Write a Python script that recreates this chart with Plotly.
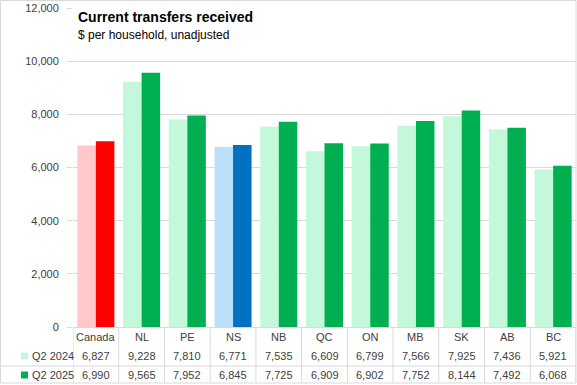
import plotly.graph_objects as go

categories = ["Canada", "NL", "PE", "NS", "NB", "QC", "ON", "MB", "SK", "AB", "BC"]
series_names = ["Q2 2024", "Q2 2025"]
q2_2024 = [6827, 9228, 7810, 6771, 7535, 6609, 6799, 7566, 7925, 7436, 5921]
q2_2025 = [6990, 9565, 7952, 6845, 7725, 6909, 6902, 7752, 8144, 7492, 6068]
y_ticks = [0, 2000, 4000, 6000, 8000, 10000, 12000]

title_text = "Current transfers received"
subtitle_text = "$ per household, unadjusted"

# colour scheme
LIGHT_DEFAULT, DARK_DEFAULT = "#C4F8DB", "#00B050"
HIGHLIGHT = {"Canada": ("#FFC9C9", "#FF0000"), "NS": ("#BDE0FA", "#0070C0")}
light_colors = [HIGHLIGHT.get(c, (LIGHT_DEFAULT, DARK_DEFAULT))[0] for c in categories]
dark_colors = [HIGHLIGHT.get(c, (LIGHT_DEFAULT, DARK_DEFAULT))[1] for c in categories]

W, H = 577, 385
ML, MR, MT, MB = 73, 1, 8, 58
PW, PH = W - ML - MR, H - MT - MB

def px(xp):
    return (xp - ML) / PW

def py(yp):
    return (H - MB - yp) / PH

FONT = "Liberation Sans, Arial, sans-serif"
GRID = "#D9D9D9"

fig = go.Figure()
fig.add_trace(go.Bar(x=categories, y=q2_2024, name=series_names[0],
                     marker=dict(color=light_colors, line=dict(width=0))))
fig.add_trace(go.Bar(x=categories, y=q2_2025, name=series_names[1],
                     marker=dict(color=dark_colors, line=dict(width=0))))

shapes = []
# outer frame
shapes.append(dict(type="rect", xref="paper", yref="paper", x0=px(0.5), x1=px(576), y0=py(383), y1=py(0.5),
                   line=dict(color=GRID, width=1), layer="below"))
# table vertical lines
for i in range(len(categories) + 1):
    shapes.append(dict(type="line", xref="x", yref="paper", x0=i - 0.5, x1=i - 0.5, y0=py(327), y1=py(383),
                       line=dict(color=GRID, width=1)))
# table horizontal line between rows
shapes.append(dict(type="line", xref="paper", yref="paper", x0=px(0.5), x1=px(576), y0=py(366), y1=py(366),
                   line=dict(color=GRID, width=1)))
# legend keys
row_y = [356, 375]
for k, yy in enumerate(row_y):
    shapes.append(dict(type="rect", xref="paper", yref="paper", x0=px(21), x1=px(28), y0=py(yy + 3.5), y1=py(yy - 3.5),
                       fillcolor=[LIGHT_DEFAULT, DARK_DEFAULT][k], line=dict(width=0)))

annotations = []
annotations.append(dict(text="<b>" + title_text + "</b>", xref="paper", yref="paper", x=px(76), y=py(17),
                        xanchor="left", yanchor="middle", showarrow=False,
                        font=dict(family=FONT, size=14, color="#000000")))
annotations.append(dict(text=subtitle_text, xref="paper", yref="paper", x=px(76), y=py(35),
                        xanchor="left", yanchor="middle", showarrow=False,
                        font=dict(family=FONT, size=12, color="#000000")))
tfont = dict(family=FONT, size=11, color="#404040")
for i, c in enumerate(categories):
    annotations.append(dict(text=c, xref="x", yref="paper", x=i, y=py(337), xanchor="center", yanchor="middle",
                            showarrow=False, font=tfont))
    for vals, yy in zip([q2_2024, q2_2025], row_y):
        annotations.append(dict(text=f"{vals[i]:,}", xref="x", yref="paper", x=i, y=py(yy), xanchor="center",
                                yanchor="middle", showarrow=False, font=tfont))
for name, yy in zip(series_names, row_y):
    annotations.append(dict(text=name, xref="paper", yref="paper", x=px(30), y=py(yy), xanchor="left",
                            yanchor="middle", showarrow=False, font=tfont))

fig.update_layout(
    width=W, height=H,
    margin=dict(l=ML, r=MR, t=MT, b=MB, pad=0),
    paper_bgcolor="white", plot_bgcolor="white",
    barmode="group", bargap=0.19, bargroupgap=0,
    showlegend=False,
    shapes=shapes, annotations=annotations,
    font=dict(family=FONT, size=11, color="#404040"),
)
fig.update_xaxes(showticklabels=False, showgrid=False, showline=True, linecolor=GRID, linewidth=1,
                 range=[-0.5, len(categories) - 0.5], ticks="")
fig.update_yaxes(range=[0, 12000], tickvals=y_ticks, ticktext=[f"{v:,}" for v in y_ticks],
                 showgrid=True, gridcolor=GRID, gridwidth=1, zeroline=False, showline=False,
                 ticks="outside", ticklen=5, tickcolor=GRID, ticklabelstandoff=6,
                 tickfont=dict(family=FONT, size=11, color="#404040"))

fig.write_html("out.html", config={"displayModeBar": False},
               post_script="document.body.style.margin='0';document.body.style.overflow='hidden';")
